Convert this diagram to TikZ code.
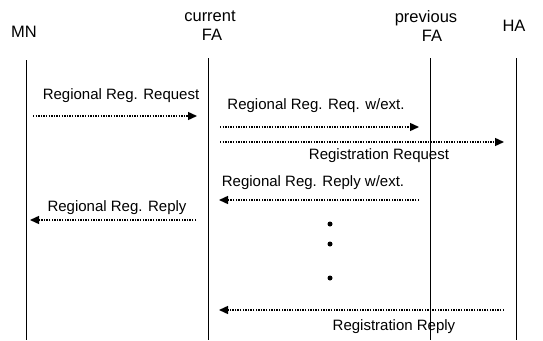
\documentclass[tikz,border=0pt]{standalone}
\usepackage{fontspec}
\setmainfont{Liberation Sans}
\usetikzlibrary{arrows.meta}
\begin{document}
\begin{tikzpicture}[x=1pt,y=-1pt,
  lbl/.style={font=\fontsize{15}{16}\selectfont, inner sep=0pt},
  hdr/.style={font=\fontsize{16.5}{17}\selectfont, inner sep=0pt},
  life/.style={line width=0.8pt},
  msg/.style={line width=1.4pt, dash pattern=on 1.4pt off 1.2pt, -{Triangle[length=9pt,width=8pt]}},
  dotmark/.style={circle, fill, inner sep=0pt, minimum size=5pt}]
\useasboundingbox (0,0) rectangle (543,340);
% headers
\node[hdr] (mn) at (24,32) {MN};
\node[hdr] (cur) at (210,16) {current};
\node[hdr] (cfa) at (212,35) {FA};
\node[hdr] (prev) at (426,18) {previous};
\node[hdr] (pfa) at (432,36) {FA};
\node[hdr] (ha) at (514,26) {HA};
% lifelines
\coordinate (mnT) at (26,60); \coordinate (mnB) at (26,340);
\coordinate (cfT) at (208,58); \coordinate (cfB) at (208,340);
\coordinate (pfT) at (430,58); \coordinate (pfB) at (430,340);
\coordinate (haT) at (516,58); \coordinate (haB) at (516,340);
\draw[life] (mnT) -- (mnB);
\draw[life] (cfT) -- (cfB);
\draw[life] (pfT) -- (pfB);
\draw[life] (haT) -- (haB);
% message endpoints
\coordinate (m1s) at (33,116); \coordinate (m1e) at (197,116);
\coordinate (m2s) at (220,127); \coordinate (m2e) at (419,127);
\coordinate (m3s) at (220,142); \coordinate (m3e) at (504,142);
\coordinate (m4s) at (419,200); \coordinate (m4e) at (219,200);
\coordinate (m5s) at (196,220); \coordinate (m5e) at (30,220);
\coordinate (m6s) at (504,310); \coordinate (m6e) at (219,310);
\draw[msg] (m1s) -- (m1e);
\draw[msg] (m2s) -- (m2e);
\draw[msg] (m3s) -- (m3e);
\draw[msg] (m4s) -- (m4e);
\draw[msg] (m5s) -- (m5e);
\draw[msg] (m6s) -- (m6e);
% labels
\node[lbl] (l1) at (121,96) {Regional Reg. Request};
\node[lbl] (l2) at (316,106) {Regional Reg. Req. w/ext.};
\node[lbl] (l3) at (379,156) {Registration Request};
\node[lbl] (l4) at (313,183) {Regional Reg. Reply w/ext.};
\node[lbl] (l5) at (117,208) {Regional Reg. Reply};
\node[lbl] (l6) at (394,327) {Registration Reply};
% dots
\node[dotmark] (d1) at (330,224) {};
\node[dotmark] (d2) at (330,244) {};
\node[dotmark] (d3) at (330,278) {};
\end{tikzpicture}
\end{document}
